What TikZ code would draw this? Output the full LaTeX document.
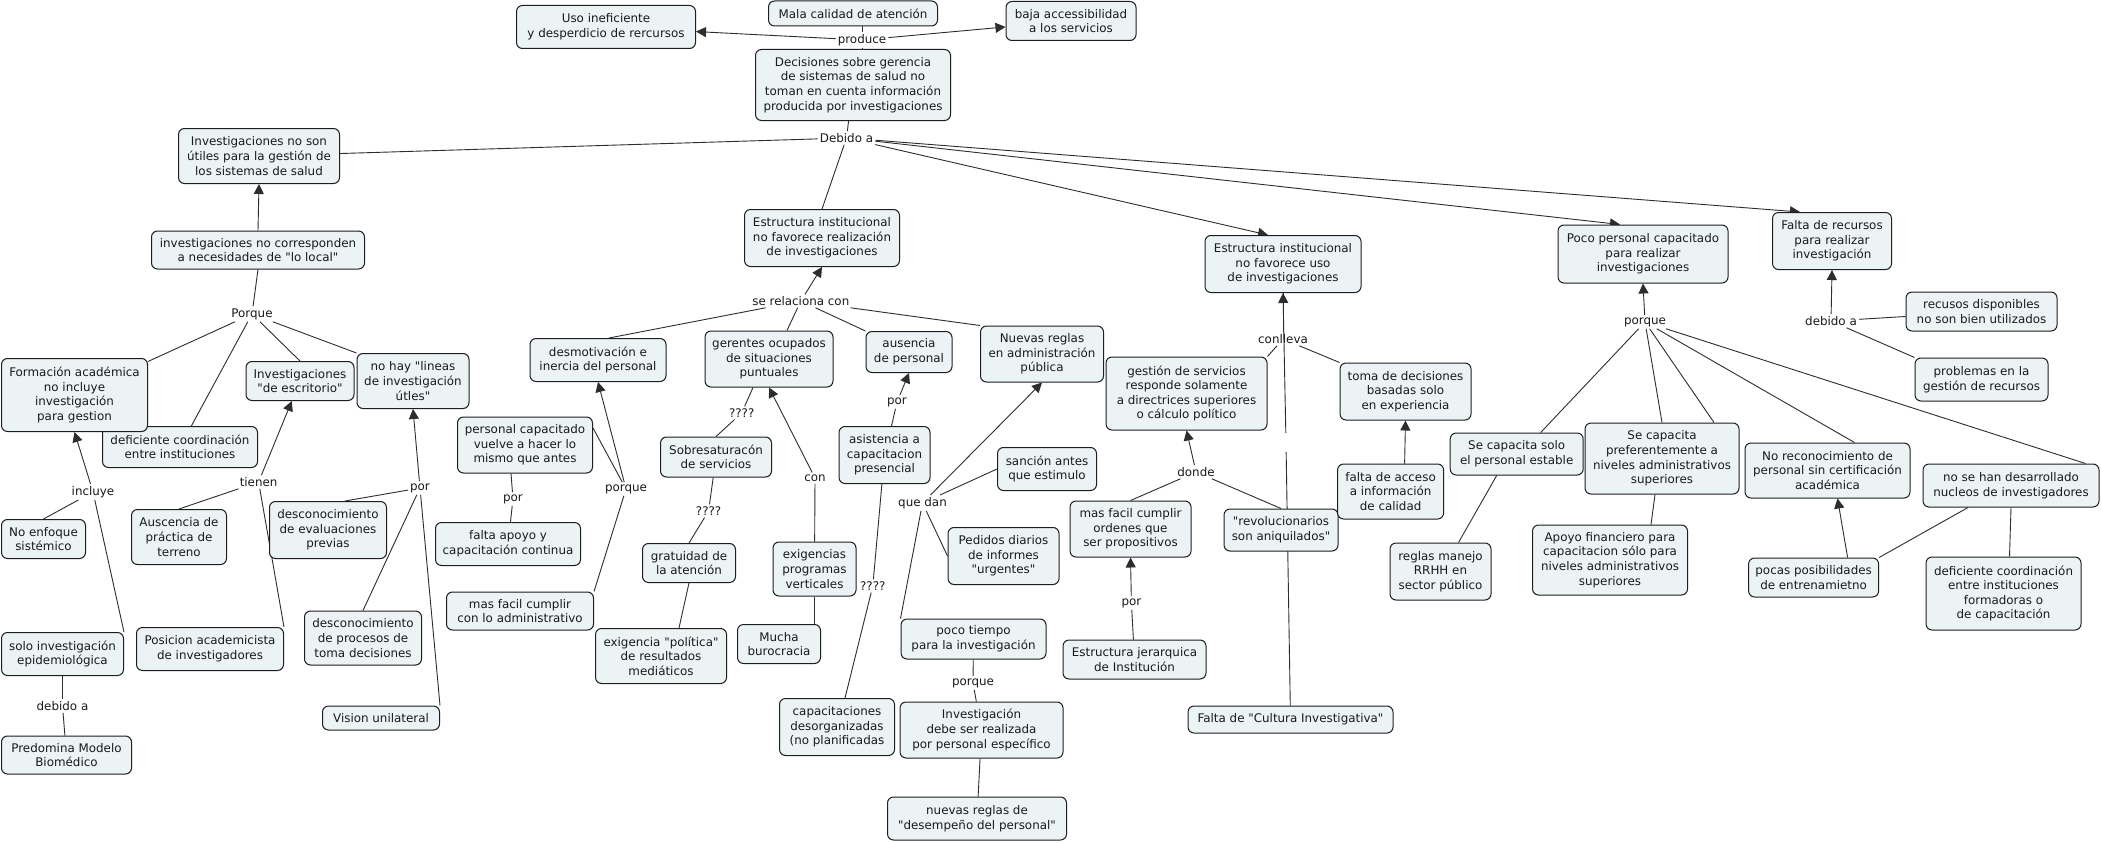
\documentclass[tikz,border=0pt]{standalone}
\usepackage{fontspec}
\setmainfont{DejaVu Sans}[Ligatures=TeXOff]
\usetikzlibrary{arrows.meta,calc}
\definecolor{boxfill}{RGB}{235,243,245}
\definecolor{ink}{RGB}{26,26,26}
\definecolor{edge}{RGB}{30,30,30}
\definecolor{linkc}{RGB}{45,45,45}
\newcommand\cfont{\fontsize{11.9}{14.6}\selectfont}
\pgfdeclarelayer{backdrop}
\pgfdeclarelayer{linklayer}
\pgfsetlayers{backdrop,linklayer,main}
\tikzset{
 concept/.style={draw=edge, fill=boxfill, rounded corners=6pt, align=center, inner sep=1pt, font=\cfont, text=ink, line width=1pt},
 sz/.style 2 args={minimum width=#1pt, minimum height=#2pt},
 lbl/.style={inner sep=2pt, font=\cfont, text=ink},
 link/.style={draw=linkc, line width=0.9pt},
 arr/.style={link, -{Triangle[length=10pt,width=10pt]}},
}
\begin{document}
\begin{tikzpicture}[x=1pt,y=-1pt]
\useasboundingbox (0,0) rectangle (2102,843);
\begin{pgfonlayer}{backdrop}
\fill[white] (0,0) rectangle (2102,843);
\end{pgfonlayer}

% concepts
\node[concept, sz={179}{43}] (uso) at (606,27) {Uso ineficiente\\y desperdicio de rercursos};
\node[concept, sz={169}{25}] (mala) at (853,13.5) {Mala calidad de atención};
\node[concept, sz={130}{39}] (baja) at (1071,21) {baja accessibilidad\\a los servicios};
\node[concept, sz={195}{71}] (dec) at (853,85) {Decisiones sobre gerencia\\de sistemas de salud no\\toman en cuenta información\\producida por investigaciones};
\node[concept, sz={161}{55}] (util) at (259,156) {Investigaciones no son\\útiles para la gestión de\\los sistemas de salud};
\node[concept, sz={155}{57}] (estrealiz) at (822,238) {Estructura institucional\\no favorece realización\\de investigaciones};
\node[concept, sz={156}{57}] (estuso) at (1283,264) {Estructura institucional\\no favorece uso\\de investigaciones};
\node[concept, sz={170}{58}] (poco) at (1643,254) {Poco personal capacitado\\para realizar\\investigaciones};
\node[concept, sz={119}{57}] (falta) at (1832,241) {Falta de recursos\\para realizar\\investigación};
\node[concept, sz={213}{38}] (loc) at (258,250) {investigaciones no corresponden\\a necesidades de "lo local"};
\node[concept, sz={155}{41}] (defc) at (180,447) {deficiente coordinación\\entre instituciones};
\node[concept, sz={146}{73}] (form) at (74.5,395) {Formación académica\\no incluye\\investigación\\para gestion};
\node[concept, sz={108}{39}] (esc) at (300,381) {Investigaciones\\"de escritorio"};
\node[concept, sz={112}{55}] (nohay) at (413,381) {no hay "lineas\\de investigación\\útles"};
\node[concept, sz={135}{56}] (pcap) at (525,445) {personal capacitado\\vuelve a hacer lo\\mismo que antes};
\node[concept, sz={145}{43}] (faltaap) at (508,544) {falta apoyo y\\capacitación continua};
\node[concept, sz={95}{55}] (ausc) at (179,537) {Auscencia de\\práctica de\\terreno};
\node[concept, sz={84}{39}] (noenf) at (43.5,539) {No enfoque\\sistémico};
\node[concept, sz={117}{57}] (desceval) at (328,530) {desconocimiento\\de evaluaciones\\previas};
\node[concept, sz={122}{43}] (solo) at (62.5,654) {solo investigación\\epidemiológica};
\node[concept, sz={130}{38}] (pred) at (66.5,755) {Predomina Modelo\\Biomédico};
\node[concept, sz={147}{43}] (pos) at (210,649) {Posicion academicista\\de investigadores};
\node[concept, sz={117}{54}] (descproc) at (363,638) {desconocimiento\\de procesos de\\toma decisiones};
\node[concept, sz={117}{24}] (vision) at (381,718) {Vision unilateral};
\node[concept, sz={147}{38}] (masadm) at (520,611) {mas facil cumplir\\con lo administrativo};
\node[concept, sz={136}{43}] (desmot) at (598,360) {desmotivación e\\inercia del personal};
\node[concept, sz={128}{56}] (ger) at (769,359) {gerentes ocupados\\de situaciones\\puntuales};
\node[concept, sz={86}{41}] (aus) at (909,352) {ausencia\\de personal};
\node[concept, sz={123}{56}] (nuevas) at (1042,354) {Nuevas reglas\\en administración\\pública};
\node[concept, sz={111}{40}] (sobres) at (716,457) {Sobresaturacón\\de servicios};
\node[concept, sz={93}{39}] (grat) at (689,563) {gratuidad de\\la atención};
\node[concept, sz={83}{54}] (exig) at (814.5,569) {exigencias\\programas\\verticales};
\node[concept, sz={83}{39}] (mucha) at (779,644) {Mucha\\burocracia};
\node[concept, sz={131}{55}] (exigpol) at (661,656) {exigencia "política"\\de resultados\\mediáticos};
\node[concept, sz={91}{57}] (asist) at (884.5,455) {asistencia a\\capacitacion\\presencial};
\node[concept, sz={115}{57}] (capac) at (837,727) {capacitaciones\\desorganizadas\\(no planificadas};
\node[concept, sz={99}{43}] (sancion) at (1047,469) {sanción antes\\que estimulo};
\node[concept, sz={111}{57}] (pedidos) at (1003.5,556) {Pedidos diarios\\de informes\\"urgentes"};
\node[concept, sz={145}{40}] (pocot) at (973.5,639) {poco tiempo\\para la investigación};
\node[concept, sz={163}{56}] (invest) at (981.5,730) {Investigación\\debe ser realizada\\por personal específico};
\node[concept, sz={179}{43}] (nuevasr) at (977,818.5) {nuevas reglas de\\"desempeño del personal"};
\node[concept, sz={161}{73}] (gestion) at (1186.5,393.5) {gestión de servicios\\responde solamente\\a directrices superiores\\o cálculo político};
\node[concept, sz={131}{57}] (toma) at (1405.5,391.5) {toma de decisiones\\basadas solo\\en experiencia};
\node[concept, sz={121}{56}] (masord) at (1130.5,529) {mas facil cumplir\\ordenes que\\ser propositivos};
\node[concept, sz={114}{42}] (revol) at (1281,530) {"revolucionarios\\son aniquilados"};
\node[concept, sz={106}{55}] (faltaac) at (1390.6,491.5) {falta de acceso\\a información\\de calidad};
\node[concept, sz={143}{39}] (estjer) at (1134.5,659.5) {Estructura jerarquica\\de Institución};
\node[concept, sz={205}{27}] (cult) at (1290.5,719.5) {Falta de "Cultura Investigativa"};
\node[concept, sz={133}{42}] (scsolo) at (1516.7,454) {Se capacita solo\\el personal estable};
\node[concept, sz={101}{57}] (reglas) at (1440.5,571.5) {reglas manejo\\RRHH en\\sector público};
\node[concept, sz={155}{70}] (apoyo) at (1610,560) {Apoyo financiero para\\capacitacion sólo para\\niveles administrativos\\superiores};
\node[concept, sz={154}{71}] (scpref) at (1662,458.5) {Se capacita\\preferentemente a\\niveles administrativos\\superiores};
\node[concept, sz={165}{55}] (norec) at (1827.5,470.5) {No reconocimiento de\\personal sin certificación\\académica};
\node[concept, sz={176}{43}] (nosehan) at (2011,485.5) {no se han desarrollado\\nucleos de investigadores};
\node[concept, sz={151}{39}] (recusos) at (1981.5,311.5) {recusos disponibles\\no son bien utilizados};
\node[concept, sz={133}{43}] (problemas) at (1981.5,379.5) {problemas en la\\gestión de recursos};
\node[concept, sz={130}{39}] (pocas) at (1813.6,577.5) {pocas posibilidades\\de entrenamietno};
\node[concept, sz={155}{73}] (defc2) at (2003.5,593.5) {deficiente coordinación\\entre instituciones\\formadoras o\\de capacitación};

% linking phrases
\node[lbl] (produce) at (862,40) {produce};
\node[lbl] (debido) at (846.5,138) {Debido a};
\node[lbl] (serel) at (800.8,301) {se relaciona con};
\node[lbl] (porq) at (252,314) {Porque};
\node[lbl] (tienen) at (258.6,482) {tienen};
\node[lbl] (incluye) at (93,492) {incluye};
\node[lbl] (porr) at (420,488) {por};
\node[lbl] (porl) at (513,499) {por};
\node[lbl] (porqm) at (626,489) {porque};
\node[lbl] (q1) at (741.7,413) {????};
\node[lbl] (q2) at (708.6,511) {????};
\node[lbl] (con) at (815,478) {con};
\node[lbl] (porm) at (897,402) {por};
\node[lbl] (q3) at (872.8,586) {????};
\node[lbl] (quedan) at (922.5,503) {que dan};
\node[lbl] (porql) at (973,683) {porque};
\node[lbl] (debl) at (62.5,706) {debido a};
\node[lbl] (conlleva) at (1283,339) {conlleva};
\node[lbl] (donde) at (1196,472) {donde};
\node[lbl] (porj) at (1131.4,603) {por};
\node[lbl] (porqr) at (1645,322) {porque};
\node[lbl] (debr) at (1831,321) {debido a};
\node[inner sep=0pt, minimum width=2pt, minimum height=19pt] (hid) at (1286,442.5) {};

\begin{pgfonlayer}{linklayer}
\draw[link] (mala.south -| produce) -- (produce.north);
\draw[link] (dec.north -| produce) -- (produce.south);
\draw[arr] (produce) -- (uso);
\draw[arr] (produce) -- (baja);
\draw[link] (dec) -- (debido);
\draw[link] (debido) -- (util);
\draw[link] (debido) -- (estrealiz.north);
\draw[arr] (debido) -- ($(estuso.north)+(-15,0)$);
\draw[arr] (debido) -- ($(poco.north)+(-23,0)$);
\draw[arr] (debido) -- ($(falta.north)+(-32,0)$);
\draw[arr] (loc.north) -- (util.south);
\draw[link] (loc.south) -- (porq);
\draw[link] (porq) -- (form);
\draw[link] (porq) -- (defc);
\draw[link] (porq) -- (esc.north);
\draw[link] (porq) -- (nohay.north west);
\draw[arr] (incluye) -- (form.south);
\draw[link] (incluye) -- (noenf.north);
\draw[link] (solo.north east) -- (incluye);
\draw[link] (solo) -- (debl);
\draw[link] (debl) -- (pred);
\draw[arr] (tienen) -- (esc);
\draw[link] (tienen) -- (ausc.north);
\draw[link] (tienen) -- (pos.north east);
\draw[arr] (porr) -- (nohay.south);
\draw[link] (porr) -- ($(desceval.north)+(17,0)$);
\draw[link] (porr) -- (descproc.north);
\draw[link] (porr) -- (vision.north east);
\draw[link] ($(pcap.south)+(-14,0)$) -- (porl);
\draw[link] (porl) -- (faltaap);
\draw[link] ($(pcap.east)+(0,-17)$) -- (porqm);
\draw[arr] (porqm) -- (desmot.south);
\draw[link] (porqm) -- (masadm.north east);
\draw[arr] (serel) -- (estrealiz.south);
\draw[link] (serel) -- ($(desmot.north)+(11,0)$);
\draw[link] (serel) -- ($(ger.north)+(18,0)$);
\draw[link] (serel) -- (aus.north west);
\draw[link] (serel) -- (nuevas.north west);
\draw[link] ($(ger.south)+(-16,0)$) -- (q1);
\draw[link] (q1) -- (sobres.north);
\draw[link] (sobres) -- (q2);
\draw[link] (q2) -- (grat.north);
\draw[arr] (con) -- (ger.south);
\draw[link] (con) -- (exig);
\draw[link] (exig.south) -- (exig.south |- mucha.north);
\draw[link] (grat.south) -- ($(exigpol.north)+(18,0)$);
\draw[link] ($(asist.north)+(7,0)$) -- (porm);
\draw[arr] (porm) -- (aus.south);
\draw[link] (asist) -- (q3);
\draw[link] (q3) -- ($(capac.north)+(8,0)$);
\draw[arr] (quedan) -- (nuevas.south);
\draw[link] (quedan) -- (sancion.west);
\draw[link] (quedan) -- (pedidos.west);
\draw[link] (quedan) -- (pocot.north west);
\draw[link] (pocot) -- (porql);
\draw[link] (porql) -- (invest);
\draw[link] (invest) -- (nuevasr);
\draw[link] (estuso) -- (conlleva);
\draw[link] (conlleva) -- (gestion.north east);
\draw[link] (conlleva) -- (toma.north west);
\draw[arr] (donde) -- (gestion.south);
\draw[link] (donde) -- (masord.north);
\draw[link] (donde) -- (revol.north);
\draw[arr] (porj) -- (masord.south);
\draw[link] (estjer) -- (porj);
\draw[link] (cult) -- (hid);
\draw[arr] (hid) -- (estuso.south);
\draw[arr] ($(faltaac.north)+(14,0)$) -- (toma.south);
\draw[arr] (porqr) -- (poco.south);
\draw[link] (porqr) -- ($(scsolo.north)+(24,0)$);
\draw[link] ($(scsolo.south)+(-20,0)$) -- ($(reglas.north)+(18,0)$);
\draw[link] (porqr) -- (scpref.north);
\draw[link] (porqr) -- ($(scpref.north)+(52,0)$);
\draw[link] ($(scpref.south)+(-7,0)$) -- ($(apoyo.north)+(41,0)$);
\draw[link] (porqr) -- ($(norec.north)+(27,0)$);
\draw[link] (porqr) -- ($(nosehan.north east)+(-14,0)$);
\draw[arr] ($(pocas.north)+(34,0)$) -- ($(norec.south)+(10,0)$);
\draw[link] (pocas.north east) -- ($(nosehan.south)+(-43,0)$);
\draw[link] (nosehan.south) -- ($(defc2.north)+(6,0)$);
\draw[arr] (debr) -- (falta.south);
\draw[link] (debr) -- ($(recusos.west)+(0,5)$);
\draw[link] (debr) -- (problemas.north west);
\end{pgfonlayer}
\end{tikzpicture}
\end{document}
